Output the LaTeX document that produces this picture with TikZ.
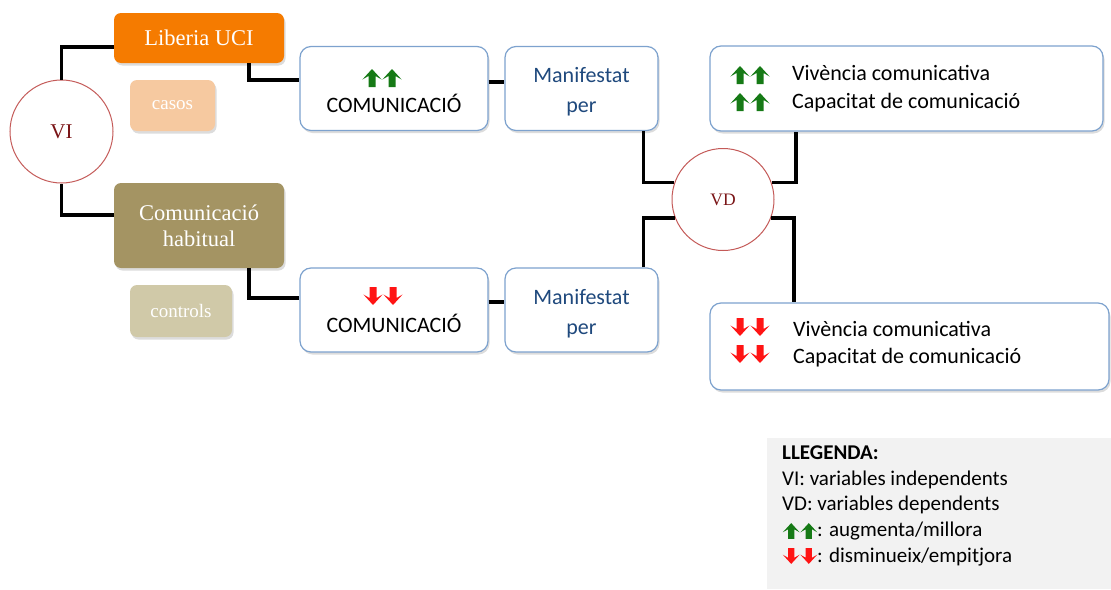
\documentclass[tikz,border=0pt]{standalone}
\usepackage{fontspec}
\setmainfont{Liberation Serif}
\newfontfamily\calibfont{Carlito}
\usetikzlibrary{shadows,calc}

\definecolor{uciorange}{RGB}{245,123,0}
\definecolor{casosfill}{RGB}{246,201,160}
\definecolor{habfill}{RGB}{164,148,99}
\definecolor{ctrlfill}{RGB}{208,201,168}
\definecolor{circred}{RGB}{196,90,88}
\definecolor{vartext}{RGB}{122,20,22}
\definecolor{boxblue}{RGB}{125,162,206}
\definecolor{mantext}{RGB}{31,73,125}
\definecolor{upgreen}{RGB}{22,122,22}
\definecolor{downred}{RGB}{255,20,20}
\definecolor{legendgray}{RGB}{242,242,242}

\tikzset{
  conn/.style={line width=3.5pt, black},
  softshadow/.style={drop shadow={shadow xshift=1.5pt, shadow yshift=-2.5pt, opacity=0.3, fill=black!45}},
  colbox/.style={rounded corners=7pt, inner sep=0pt, text=white, align=center,
    font=\fontsize{22.5}{26}\selectfont, softshadow},
  smallbox/.style={colbox, font=\fontsize{19}{22}\selectfont},
  bluebox/.style={draw=boxblue, line width=1.2pt, fill=white, rounded corners=11pt,
    inner sep=0pt, softshadow},
  varcircle/.style={circle, draw=circred, line width=1pt, fill=white, minimum size=103pt,
    inner sep=0pt, text=vartext},
  boxtext/.style={inner sep=0pt, font=\calibfont\fontsize{22}{30}\selectfont},
  itemtext/.style={inner sep=0pt, anchor=base west, font=\calibfont\fontsize{22}{26}\selectfont},
  legtext/.style={inner sep=0pt, anchor=base west, font=\calibfont\fontsize{21}{25}\selectfont},
  % thick block arrows with barbed heads, drawn in pairs
  uppair/.pic={
    \foreach \dx in {-10,10}
      \fill[upgreen, shift={(\dx,0)}] (0,-9) -- (9.6,1.5) -- (3.5,-2) -- (3.5,9)
        -- (-3.5,9) -- (-3.5,-2) -- (-9.6,1.5) -- cycle;
  },
  downpair/.pic={
    \foreach \dx in {-10,10}
      \fill[downred, shift={(\dx,0)}] (0,9) -- (9.6,-1.5) -- (3.5,2) -- (3.5,-9)
        -- (-3.5,-9) -- (-3.5,2) -- (-9.6,-1.5) -- cycle;
  },
}

\begin{document}
\begin{tikzpicture}[x=1pt, y=-1pt]
  \useasboundingbox (0,0) rectangle (1111,589);

  % independent variables
  \node[varcircle, font=\fontsize{21}{24}\selectfont] (vi) at (61.5,131.5) {VI};
  \node[colbox, fill=uciorange, minimum width=170pt, minimum height=50pt] (lib) at (199,38) {Liberia UCI};
  \node[smallbox, fill=casosfill, minimum width=85pt, minimum height=51pt] (casos) at (172.5,105.5) {casos};
  \node[colbox, fill=habfill, minimum width=170pt, minimum height=85pt] (hab) at (199,225.5) {Comunicació\\habitual};
  \node[smallbox, fill=ctrlfill, minimum width=102pt, minimum height=52pt] (ctrl) at (181,311) {controls};

  % communication boxes
  \node[bluebox, minimum width=188pt, minimum height=84pt] (com1) at (394,88.5) {};
  \node[boxtext] (com1t) at (394,103) {COMUNICACIÓ};
  \pic at (382,78) {uppair};
  \node[bluebox, minimum width=188pt, minimum height=84pt] (com2) at (394,310) {};
  \node[boxtext] (com2t) at (394,323) {COMUNICACIÓ};
  \pic at (383,296) {downpair};

  \node[bluebox, minimum width=153pt, minimum height=84pt] (man1) at (581.5,88.5) {};
  \node[boxtext, text=mantext, align=center] (man1t) at (581.5,91.5) {Manifestat\\per};
  \node[bluebox, minimum width=153pt, minimum height=84pt] (man2) at (581.5,310) {};
  \node[boxtext, text=mantext, align=center] (man2t) at (581.5,314) {Manifestat\\per};

  % dependent variables
  \node[varcircle, minimum size=102pt, font=\fontsize{17.5}{20}\selectfont] (vd) at (723,199.5) {VD};

  \node[bluebox, minimum width=393pt, minimum height=85pt] (viv1) at (906.5,88.5) {};
  \node[itemtext] (viv1a) at (792,80) {Vivència comunicativa};
  \node[itemtext] (viv1b) at (792,108) {Capacitat de comunicació};
  \pic at (750,75) {uppair};
  \pic at (750,102) {uppair};

  \node[bluebox, minimum width=399pt, minimum height=87pt] (viv2) at (909.5,346.5) {};
  \node[itemtext] (viv2a) at (793,336) {Vivència comunicativa};
  \node[itemtext] (viv2b) at (793,363) {Capacitat de comunicació};
  \pic at (750,327) {downpair};
  \pic at (750,354) {downpair};

  % connectors
  \draw[conn] (vi.north) |- ([yshift=-9pt]lib.west);
  \draw[conn] (vi.south) |- ([yshift=10.5pt]hab.west);
  \draw[conn] ([xshift=50pt]lib.south) |- ([yshift=8.5pt]com1.west);
  \draw[conn] ([xshift=50pt]hab.south) |- ([yshift=12pt]com2.west);
  \draw[conn] ([yshift=6.5pt]com1.east) -- ([yshift=6.5pt]man1.west);
  \draw[conn] ([yshift=8pt]com2.east) -- ([yshift=8pt]man2.west);
  \draw[conn] ([xshift=62pt]man1.south) |- (vd.161);
  \draw[conn] ([xshift=62pt]man2.north) |- (vd.201);
  \draw[conn] (vd.19) -| ([xshift=-110.5pt]viv1.south);
  \draw[conn] (vd.339) -| ([xshift=-115.5pt]viv2.north);

  % legend
  \fill[legendgray] (767,438) rectangle (1111,589);
  \node[legtext] (leg0) at (782,459) {\bfseries LLEGENDA:};
  \node[legtext] (leg1) at (782,485) {VI: variables independents};
  \node[legtext] (leg2) at (782,510) {VD: variables dependents};
  \node[legtext] (leg3) at (817,536) {: augmenta/millora};
  \node[legtext] (leg4) at (817,562) {: disminueix/empitjora};
  \pic[scale=0.88] at (800,531) {uppair};
  \pic[scale=0.88] at (800,556) {downpair};
\end{tikzpicture}
\end{document}
